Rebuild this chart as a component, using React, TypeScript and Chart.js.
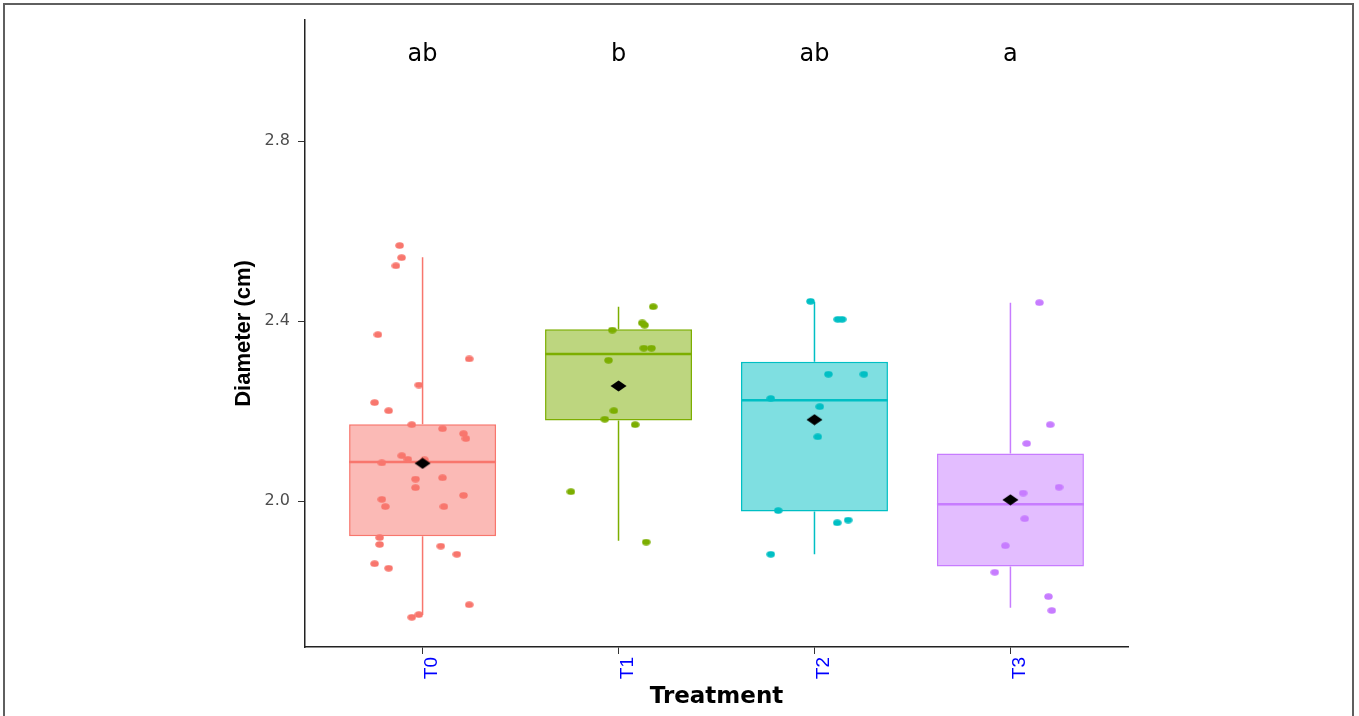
import React, { useEffect, useRef } from "react";
import { Chart, registerables } from "chart.js";

Chart.register(...registerables);

// ---------- data ----------
const GROUPS = ["T0", "T1", "T2", "T3"];
const LETTERS = ["ab", "b", "ab", "a"];
const LETTER_Y = 2.978;
const Y_TICKS = [2.0, 2.4, 2.8];
const Y_MIN = 1.676;
const Y_MAX = 3.069;
const X_MIN = 0.4;
const X_MAX = 4.6;

const WHISKER_LOW = [1.747, 1.912, 1.882, 1.763];
const Q1 = [1.922, 2.179, 1.977, 1.855];
const MEDIAN = [2.087, 2.327, 2.224, 1.993];
const Q3 = [2.171, 2.382, 2.31, 2.106];
const WHISKER_HIGH = [2.542, 2.432, 2.443, 2.441];
const MEAN = [2.084, 2.256, 2.181, 2.003];

const T0_VALUES = [2.568, 2.541, 2.523, 2.37, 2.316, 2.258, 2.219, 2.201, 2.17, 2.161, 2.15, 2.139, 2.101, 2.093, 2.085, 2.092, 2.049, 2.052, 2.03, 2.004, 1.988, 1.988, 2.013, 1.919, 1.904, 1.9, 1.882, 1.861, 1.851, 1.77, 1.742, 1.748];
const T0_JITTER = [-0.117, -0.107, -0.136, -0.228, 0.238, -0.019, -0.245, -0.173, -0.055, 0.102, 0.209, 0.221, -0.106, -0.075, -0.208, 0.01, -0.036, 0.102, -0.036, -0.208, -0.19, 0.109, 0.209, -0.219, -0.219, 0.093, 0.175, -0.245, -0.173, 0.238, -0.055, -0.019];

const T1_VALUES = [2.432, 2.396, 2.391, 2.38, 2.34, 2.34, 2.313, 2.201, 2.182, 2.17, 2.021, 1.909];
const T1_JITTER = [0.177, 0.121, 0.133, -0.032, 0.129, 0.168, -0.051, -0.024, -0.07, 0.085, -0.243, 0.141];

const T2_VALUES = [2.444, 2.404, 2.404, 2.282, 2.282, 2.228, 2.21, 2.143, 1.979, 1.952, 1.958, 1.882];
const T2_JITTER = [-0.02, 0.119, 0.141, 0.071, 0.252, -0.223, 0.027, 0.017, -0.185, 0.116, 0.172, -0.223];

const T3_VALUES = [2.441, 2.17, 2.128, 2.031, 2.018, 1.961, 1.901, 1.842, 1.788, 1.757];
const T3_JITTER = [0.148, 0.203, 0.083, 0.248, 0.065, 0.073, -0.026, -0.08, 0.194, 0.211];

const ALL_VALUES = [T0_VALUES, T1_VALUES, T2_VALUES, T3_VALUES];
const ALL_JITTER = [T0_JITTER, T1_JITTER, T2_JITTER, T3_JITTER];

const COLORS = ["#F8766D", "#7CAE00", "#00BFC4", "#C77CFF"];
const FILLS = [
  "rgba(248,118,109,0.5)",
  "rgba(124,174,0,0.5)",
  "rgba(0,191,196,0.5)",
  "rgba(199,124,255,0.5)",
];

const BOX_WIDTH = 0.75;

// ---------- marker images ----------
function ellipseMarker(color: string, w: number, h: number) {
  const c = document.createElement("canvas");
  c.width = w;
  c.height = h;
  const g = c.getContext("2d")!;
  g.fillStyle = color;
  g.beginPath();
  g.ellipse(w / 2, h / 2, w / 2 - 0.3, h / 2 - 0.3, 0, 0, Math.PI * 2);
  g.fill();
  return c;
}

function diamondMarker(color: string, w: number, h: number) {
  const c = document.createElement("canvas");
  c.width = w;
  c.height = h;
  const g = c.getContext("2d")!;
  g.fillStyle = color;
  g.beginPath();
  g.moveTo(w / 2, 0.5);
  g.lineTo(w - 0.5, h / 2);
  g.lineTo(w / 2, h - 0.5);
  g.lineTo(0.5, h / 2);
  g.closePath();
  g.fill();
  return c;
}

const annotatePlugin = {
  id: "annotate",
  afterDatasetsDraw(chart: any) {
    const { ctx, scales } = chart;
    const x = scales.x;
    const y = scales.y;
    ctx.save();
    ctx.fillStyle = "#000000";
    ctx.font = "24px 'DejaVu Sans'";
    ctx.textAlign = "center";
    ctx.textBaseline = "alphabetic";
    LETTERS.forEach((t, i) => {
      ctx.fillText(t, x.getPixelForValue(i + 1), y.getPixelForValue(LETTER_Y));
    });
    ctx.restore();
  },
  afterDraw(chart: any) {
    const { ctx } = chart;
    ctx.save();
    ctx.strokeStyle = "#5f5f5f";
    ctx.lineWidth = 2;
    ctx.strokeRect(4, 4, 1349, 800);
    ctx.restore();
  },
};

export default function App() {
  const ref = useRef<HTMLCanvasElement | null>(null);

  useEffect(() => {
    if (!ref.current) return;

    const datasets: any[] = [];

    // mean diamonds
    datasets.push({
      type: "scatter",
      label: "mean",
      order: 0,
      data: MEAN.map((m, i) => ({ x: i + 1, y: m })),
      pointStyle: diamondMarker("#000000", 17, 12),
      pointRadius: 6,
      showLine: false,
    });

    // jitter points
    ALL_VALUES.forEach((vals, g) => {
      datasets.push({
        type: "scatter",
        label: GROUPS[g] + " points",
        order: 1,
        data: vals.map((v, k) => ({ x: g + 1 + ALL_JITTER[g][k], y: v })),
        pointStyle: ellipseMarker(COLORS[g], 9, 7),
        pointRadius: 4,
        showLine: false,
      });
    });

    // medians
    GROUPS.forEach((_, g) => {
      datasets.push({
        type: "line",
        label: GROUPS[g] + " median",
        order: 2,
        data: [
          { x: g + 1 - BOX_WIDTH / 2, y: MEDIAN[g] },
          { x: g + 1 + BOX_WIDTH / 2, y: MEDIAN[g] },
        ],
        borderColor: COLORS[g],
        borderWidth: 2.5,
        pointRadius: 0,
        fill: false,
      });
    });

    // whiskers
    GROUPS.forEach((_, g) => {
      datasets.push({
        type: "line",
        label: GROUPS[g] + " whiskers",
        order: 3,
        data: [
          { x: g + 1, y: Q3[g] },
          { x: g + 1, y: WHISKER_HIGH[g] },
          { x: g + 1, y: null },
          { x: g + 1, y: Q1[g] },
          { x: g + 1, y: WHISKER_LOW[g] },
        ],
        borderColor: COLORS[g],
        borderWidth: 1.5,
        pointRadius: 0,
        spanGaps: false,
        fill: false,
      });
    });

    // boxes
    datasets.push({
      type: "bar",
      label: "box",
      order: 4,
      data: GROUPS.map((_, g) => ({ x: g + 1, y: [Q1[g], Q3[g]] })),
      backgroundColor: FILLS,
      borderColor: COLORS,
      borderWidth: 1.5,
      borderSkipped: false,
      categoryPercentage: 1,
      barPercentage: BOX_WIDTH,
    });

    const chart = new Chart(ref.current, {
      type: "bar",
      data: { datasets },
      plugins: [annotatePlugin],
      options: {
        responsive: false,
        animation: false,
        events: [],
        layout: { padding: { left: 231, right: 231, top: 20, bottom: 0 } },
        plugins: {
          legend: { display: false },
          tooltip: { enabled: false },
        },
        scales: {
          x: {
            type: "linear",
            min: X_MIN,
            max: X_MAX,
            offset: false,
            afterBuildTicks: (s: any) => {
              s.ticks = GROUPS.map((_, i) => ({ value: i + 1 }));
            },
            afterFit: (s: any) => {
              s.height = 69;
            },
            ticks: {
              autoSkip: false,
              minRotation: 90,
              maxRotation: 90,
              padding: 3,
              labelOffset: 9,
              color: "#0000FF",
              font: { family: "'Liberation Sans'", size: 19 },
              callback: (v: any) => GROUPS[Math.round(Number(v)) - 1] ?? "",
            },
            grid: {
              display: true,
              offset: false,
              drawOnChartArea: false,
              drawTicks: true,
              tickLength: 7,
              color: "#333333",
              lineWidth: 1,
            },
            border: { display: true, color: "#222222", width: 1.5 },
            title: {
              display: true,
              text: "Treatment",
              color: "#000000",
              font: { family: "'DejaVu Sans'", size: 23, weight: "bold" },
              padding: { top: 0, bottom: 5 },
            },
          },
          y: {
            type: "linear",
            min: Y_MIN,
            max: Y_MAX,
            afterBuildTicks: (s: any) => {
              s.ticks = Y_TICKS.map((v) => ({ value: v }));
            },
            afterFit: (s: any) => {
              s.width = 74;
            },
            ticks: {
              padding: 8,
              color: "#4D4D4D",
              font: { family: "'DejaVu Sans'", size: 16 },
              callback: (v: any) => Number(v).toFixed(1),
            },
            grid: {
              display: true,
              drawOnChartArea: false,
              drawTicks: true,
              tickLength: 7,
              color: "#333333",
              lineWidth: 1,
            },
            border: { display: true, color: "#222222", width: 1.5 },
            title: {
              display: true,
              text: "Diameter (cm)",
              color: "#000000",
              font: { family: "'Liberation Sans'", size: 22, weight: "bold" },
              padding: { top: 0, bottom: 0 },
            },
          },
        },
      } as any,
    });

    return () => chart.destroy();
  }, []);

  return (
    <div style={{ position: "absolute", left: 0, top: 0, width: 1359, height: 716, background: "#ffffff" }}>
      <canvas ref={ref} width={1359} height={716} style={{ display: "block" }} />
    </div>
  );
}
